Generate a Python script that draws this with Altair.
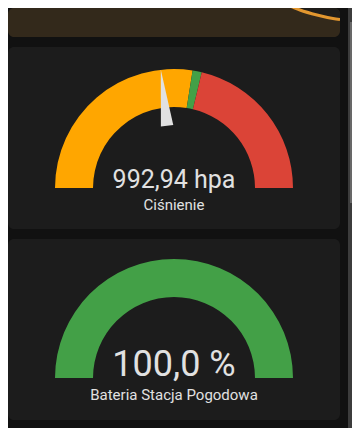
import math
import altair as alt
import pandas as pd

# ---------------- data ----------------
# history graph (top card, only its lower edge is visible)
hist_x = [240, 255, 265, 282, 292, 309, 325, 332]
hist_y = [58, 45, 37, 31, 27, 22, 18.5, 17.5]

# pressure gauge
p_name = "Ciśnienie"
p_value = 992.94
p_unit = "hpa"
p_min, p_max = 900, 1100
p_seg_from = [900, 1010, 1015]
p_seg_to = [1010, 1015, 1100]
p_seg_color = ["#ffa600", "#43a047", "#db4437"]

# battery gauge
b_name = "Bateria Stacja Pogodowa"
b_value = 100.0
b_unit = "%"
b_min, b_max = 0, 100
b_color = "#43a047"

# scrollbar thumb position
scroll_pos = [14, 195]

TEXT = "#e1e1e1"
CARD = "#1c1c1c"
FONT = "Roboto"


def card_view(fill=CARD, radius=6):
    return alt.ViewBackground(fill=fill, stroke=None, cornerRadius=radius)


# ---------------- top card: history graph ----------------
hist = pd.DataFrame({"x": hist_x, "y": hist_y})
hx = alt.X("x:Q", scale=alt.Scale(domain=[0, 332]), axis=None)
hy = alt.Y("y:Q", scale=alt.Scale(domain=[0, 29]), axis=None)
top_area = alt.Chart(hist).mark_area(
    color="#1f1d1a", interpolate="monotone", clip=True
).encode(x=hx, y=hy, y2=alt.datum(90))
top_line = alt.Chart(hist).mark_line(
    color="#e3972f", strokeWidth=3, interpolate="monotone", clip=True
).encode(x=hx, y=hy)
card1 = alt.layer(top_area, top_line).properties(
    width=332, height=29, view=card_view("#33291b")
)


# ---------------- gauge builder ----------------
def gauge(seg_from, seg_to, seg_color, vmin, vmax, value, label, name,
          cy, value_y, name_y, value_size, height, needle=True):
    cx = 166
    segs = pd.DataFrame({"s": seg_from, "e": seg_to, "c": seg_color})
    theta_scale = alt.Scale(domain=[vmin, vmax], range=[-math.pi / 2, math.pi / 2])
    arcs = alt.Chart(segs).mark_arc(radius=119, radius2=81).encode(
        theta=alt.Theta("s:Q", scale=theta_scale, stack=None),
        theta2="e:Q",
        color=alt.Color("c:N", scale=None),
        x=alt.value(cx),
        y=alt.value(cy),
    )
    layers = [arcs]
    if needle:
        nd = pd.DataFrame({"v": [value]})
        path = "M -0.0525 -0.5263 L 0 -1 L 0.0525 -0.5263 Z"
        ndl = alt.Chart(nd).transform_calculate(
            ang=f"(datum.v - {vmin}) / ({vmax} - {vmin}) * 180 - 90"
        ).mark_point(
            shape=path, filled=True, size=238 * 238, color=TEXT,
            opacity=1, strokeWidth=0
        ).encode(
            x=alt.value(cx), y=alt.value(cy),
            angle=alt.Angle("ang:Q", scale=None),
        )
        layers.append(ndl)
    txt = pd.DataFrame({"t": [label], "n": [name]})
    vtext = alt.Chart(txt).mark_text(
        font=FONT, fontSize=value_size, color=TEXT, align="center",
        baseline="alphabetic"
    ).encode(text="t:N", x=alt.value(cx), y=alt.value(value_y))
    ntext = alt.Chart(txt).mark_text(
        font=FONT, fontSize=15, color=TEXT, align="center",
        baseline="alphabetic"
    ).encode(text="n:N", x=alt.value(cx), y=alt.value(name_y))
    layers += [vtext, ntext]
    return alt.layer(*layers).properties(width=332, height=height, view=card_view())


p_label = f"{p_value:.2f}".replace(".", ",") + " " + p_unit
b_label = f"{b_value:.1f}".replace(".", ",") + " " + b_unit

card2 = gauge(p_seg_from, p_seg_to, p_seg_color, p_min, p_max, p_value,
              p_label, p_name, cy=141, value_y=141, name_y=162.5,
              value_size=25, height=182, needle=True)
card3 = gauge([b_min], [b_value], [b_color], b_min, b_max, b_value,
              b_label, b_name, cy=139, value_y=137, name_y=161,
              value_size=36, height=181, needle=False)

cards = alt.vconcat(card1, card2, card3, spacing=10, bounds="flush")

# ---------------- scrollbar ----------------
sb = pd.DataFrame({"a": [scroll_pos[0]], "b": [scroll_pos[1]]})
scroll = alt.Chart(sb).mark_rect(color="#686868").encode(
    y=alt.Y("a:Q", scale=alt.Scale(domain=[0, 420], reverse=True), axis=None),
    y2="b:Q",
    x=alt.value(2), x2=alt.value(4),
).properties(width=4, height=420, view=card_view("#3c3c3c", 0))

chart = alt.hconcat(cards, scroll, spacing=8).properties(
    padding=0, background="#111111"
).configure_view(stroke=None)

chart.save("out.html", embed_options={"renderer": "svg", "actions": False})
